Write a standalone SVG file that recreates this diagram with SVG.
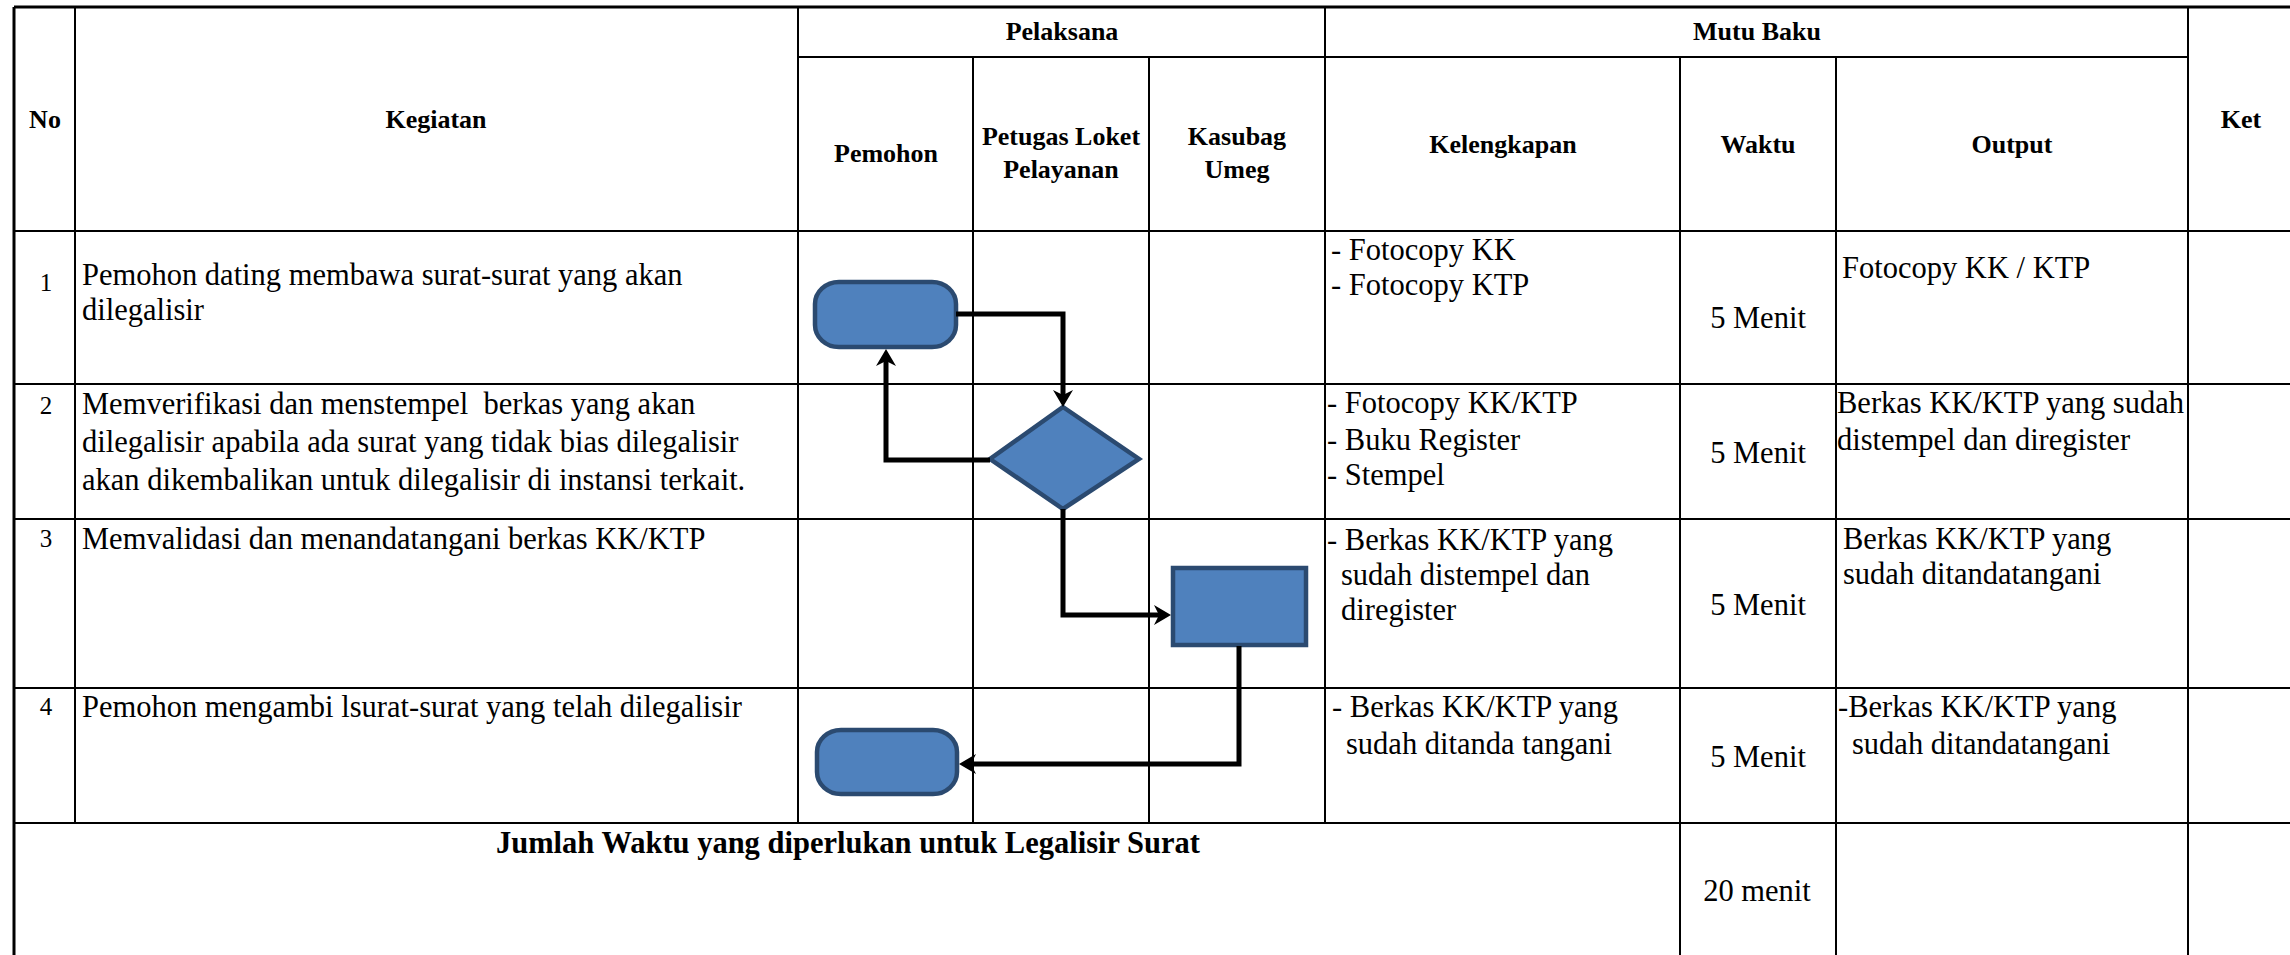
<svg xmlns="http://www.w3.org/2000/svg" width="2290" height="955" viewBox="0 0 2290 955">
<style>
.grid{stroke:#000;stroke-width:2;fill:none}
.outer{stroke:#000;stroke-width:3;fill:none}
text{font-family:'Liberation Serif',serif;fill:#000}
.h{font-weight:bold;font-size:26px;text-anchor:middle}
.b{font-size:30.5px}
.c{text-anchor:middle}
.n{font-size:25px;text-anchor:middle}
.tot{font-weight:bold;font-size:30.5px;text-anchor:middle}
.shape{fill:#4f81bd;stroke:#2b4a70;stroke-width:4.5}
.conn{fill:none;stroke:#000;stroke-width:5;stroke-linejoin:miter}
</style>
<defs>
<marker id="arr" markerUnits="userSpaceOnUse" viewBox="-10 -12 20 24" markerWidth="20" markerHeight="24" refX="0" refY="0" orient="auto">
<path d="M9,0 L-8,-10 L-3,0 L-8,10 Z" fill="#000"/>
</marker>
</defs>
<rect x="0" y="0" width="2290" height="955" fill="#fff"/>
<g id="table">
<line class="outer" x1="14" y1="7" x2="2290" y2="7"/>
<line class="outer" x1="14" y1="7" x2="14" y2="955"/>
<line class="grid" x1="798" y1="57" x2="2188" y2="57"/>
<line class="grid" x1="14" y1="231" x2="2290" y2="231"/>
<line class="grid" x1="14" y1="384" x2="2290" y2="384"/>
<line class="grid" x1="14" y1="519" x2="2290" y2="519"/>
<line class="grid" x1="14" y1="688" x2="2290" y2="688"/>
<line class="grid" x1="14" y1="823" x2="2290" y2="823"/>
<line class="grid" x1="75" y1="7" x2="75" y2="823"/>
<line class="grid" x1="798" y1="7" x2="798" y2="823"/>
<line class="grid" x1="973" y1="57" x2="973" y2="823"/>
<line class="grid" x1="1149" y1="57" x2="1149" y2="823"/>
<line class="grid" x1="1325" y1="7" x2="1325" y2="823"/>
<line class="grid" x1="1680" y1="57" x2="1680" y2="955"/>
<line class="grid" x1="1836" y1="57" x2="1836" y2="955"/>
<line class="grid" x1="2188" y1="7" x2="2188" y2="955"/>
</g>
<g id="headers">
<text class="h" x="45" y="128">No</text>
<text class="h" x="436" y="128">Kegiatan</text>
<text class="h" x="1062" y="40">Pelaksana</text>
<text class="h" x="1757" y="40">Mutu Baku</text>
<text class="h" x="2241" y="128">Ket</text>
<text class="h" x="886" y="162">Pemohon</text>
<text class="h" x="1061" y="145">Petugas Loket</text>
<text class="h" x="1061" y="178">Pelayanan</text>
<text class="h" x="1237" y="145">Kasubag</text>
<text class="h" x="1237" y="178">Umeg</text>
<text class="h" x="1503" y="153">Kelengkapan</text>
<text class="h" x="1758" y="153">Waktu</text>
<text class="h" x="2012" y="153">Output</text>
</g>
<g id="row1">
<text class="n" x="46" y="291">1</text>
<text class="b" x="82" y="285">Pemohon dating membawa surat-surat yang akan</text>
<text class="b" x="82" y="320">dilegalisir</text>
<text class="b" x="1331" y="260">- Fotocopy KK</text>
<text class="b" x="1331" y="295">- Fotocopy KTP</text>
<text class="b c" x="1758" y="328">5 Menit</text>
<text class="b" x="1842" y="278">Fotocopy KK / KTP</text>
</g>
<g id="row2">
<text class="n" x="46" y="414">2</text>
<text class="b" x="82" y="414" xml:space="preserve">Memverifikasi dan menstempel  berkas yang akan</text>
<text class="b" x="82" y="452">dilegalisir apabila ada surat yang tidak bias dilegalisir</text>
<text class="b" x="82" y="490">akan dikembalikan untuk dilegalisir di instansi terkait.</text>
<text class="b" x="1327" y="413">- Fotocopy KK/KTP</text>
<text class="b" x="1327" y="450">- Buku Register</text>
<text class="b" x="1327" y="485">- Stempel</text>
<text class="b c" x="1758" y="463">5 Menit</text>
<text class="b" x="1837" y="413">Berkas KK/KTP yang sudah</text>
<text class="b" x="1837" y="450">distempel dan diregister</text>
</g>
<g id="row3">
<text class="n" x="46" y="547">3</text>
<text class="b" x="82" y="549">Memvalidasi dan menandatangani berkas KK/KTP</text>
<text class="b" x="1327" y="550">- Berkas KK/KTP yang</text>
<text class="b" x="1341" y="585">sudah distempel dan</text>
<text class="b" x="1341" y="620">diregister</text>
<text class="b c" x="1758" y="615">5 Menit</text>
<text class="b" x="1843" y="549">Berkas KK/KTP yang</text>
<text class="b" x="1843" y="584">sudah ditandatangani</text>
</g>
<g id="row4">
<text class="n" x="46" y="715">4</text>
<text class="b" x="82" y="717">Pemohon mengambi lsurat-surat yang telah dilegalisir</text>
<text class="b" x="1332" y="717">- Berkas KK/KTP yang</text>
<text class="b" x="1346" y="754">sudah ditanda tangani</text>
<text class="b c" x="1758" y="767">5 Menit</text>
<text class="b" x="1838" y="717">-Berkas KK/KTP yang</text>
<text class="b" x="1852" y="754">sudah ditandatangani</text>
</g>
<g id="total">
<text class="tot" x="848" y="853">Jumlah Waktu yang diperlukan untuk Legalisir Surat</text>
<text class="b c" x="1757" y="901">20 menit</text>
</g>
<g id="node-start">
<rect class="shape" x="815" y="282" width="141" height="65" rx="24" ry="22"/>
</g>
<g id="node-verify">
<polygon class="shape" points="1063,407 1139,459 1063,509 990,459"/>
</g>
<g id="node-validate">
<rect class="shape" x="1173" y="568" width="133" height="77"/>
</g>
<g id="node-end">
<rect class="shape" x="817" y="730" width="140" height="64" rx="24" ry="22"/>
</g>
<g id="connectors">
<path class="conn" d="M956,314 H1063 V398" marker-end="url(#arr)"/>
<path class="conn" d="M990,460 H886 V358" marker-end="url(#arr)"/>
<path class="conn" d="M1063,509 V615 H1162" marker-end="url(#arr)"/>
<path class="conn" d="M1239,646 V764 H968" marker-end="url(#arr)"/>
</g>
</svg>
